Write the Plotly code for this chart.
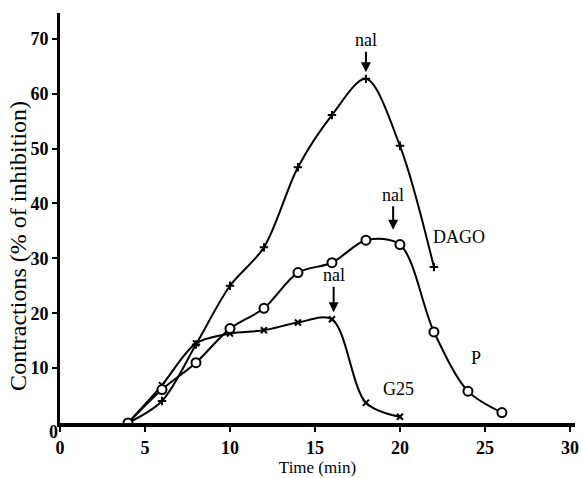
import plotly.graph_objects as go

time_dago = [4, 6, 8, 10, 12, 14, 16, 18, 20, 22]
dago = [0, 4.0, 14.3, 25.0, 32.0, 46.6, 56.1, 62.7, 50.5, 28.4]

time_p = [4, 6, 8, 10, 12, 14, 16, 18, 20, 22, 24, 26]
p_vals = [0, 6.1, 11.0, 17.2, 20.9, 27.4, 29.2, 33.3, 32.5, 16.6, 5.8, 1.9]

time_g25 = [4, 6, 8, 10, 12, 14, 16, 18, 20]
g25 = [0, 6.9, 14.5, 16.3, 16.9, 18.3, 18.9, 3.7, 1.15]

x_ticks = [0, 5, 10, 15, 20, 25, 30]
y_ticks = [10, 20, 30, 40, 50, 60, 70]

FONT = "Liberation Serif, Times New Roman, serif"

fig = go.Figure()
fig.add_trace(go.Scatter(
    x=time_dago, y=dago, mode="lines+markers", name="DAGO",
    line=dict(color="black", width=2, shape="spline", smoothing=0.9),
    marker=dict(symbol="cross-thin", size=6, color="black", line=dict(width=2, color="black")),
))
fig.add_trace(go.Scatter(
    x=time_g25, y=g25, mode="lines+markers", name="G25",
    line=dict(color="black", width=2, shape="spline", smoothing=0.9),
    marker=dict(symbol="x-thin", size=6, color="black", line=dict(width=2, color="black")),
))
fig.add_trace(go.Scatter(
    x=time_p, y=p_vals, mode="lines+markers", name="P",
    line=dict(color="black", width=2, shape="spline", smoothing=0.9),
    marker=dict(symbol="circle", size=9, color="white", line=dict(width=2, color="black")),
))

# nal arrows
for (x, y, ay) in [(18.0, 63.9, -32), (19.6, 35.2, -35), (16.1, 20.2, -37)]:
    fig.add_annotation(x=x, y=y, text="nal", showarrow=True, ax=0, ay=ay,
                       arrowhead=2, arrowsize=1, arrowwidth=2, arrowcolor="black",
                       font=dict(family=FONT, size=18, color="black"))

for (x, y, t) in [(23.5, 33.9, "DAGO"), (24.5, 11.8, "P"), (19.9, 6.2, "G25")]:
    fig.add_annotation(x=x, y=y, text=t, showarrow=False,
                       font=dict(family=FONT, size=18, color="black"))

# y-axis zero label placed slightly lower
fig.add_annotation(xref="paper", yref="y", x=0, y=0, xshift=-13, yshift=-9, text="0",
                   showarrow=False, font=dict(family=FONT, size=18, color="black", weight="bold"))

# y-axis title (sits a little below the plot's middle, as in the reference)
fig.add_annotation(xref="paper", yref="paper", x=0, y=0.432, xshift=-42, textangle=-90,
                   text="Contractions (% of inhibition)", showarrow=False,
                   xanchor="center", yanchor="middle",
                   font=dict(family=FONT, size=24, color="black"))

fig.update_layout(
    width=582, height=478,
    margin=dict(l=60, r=7, t=13, b=55),
    plot_bgcolor="white", paper_bgcolor="white",
    showlegend=False,
    font=dict(family=FONT, color="black"),
    xaxis=dict(range=[0, 30.3], tickvals=x_ticks, ticks="outside", ticklen=5, tickwidth=2,
               tickcolor="black", showline=True, linewidth=4, linecolor="black",
               showgrid=False, zeroline=False, automargin=False,
               tickfont=dict(family=FONT, size=18, color="black", weight="bold"),
               title=dict(text="Time (min)", font=dict(family=FONT, size=17, color="black"), standoff=2)),
    yaxis=dict(range=[0, 74.7], tickvals=y_ticks, ticks="outside", ticklen=5, tickwidth=2,
               tickcolor="black", showline=True, linewidth=3, linecolor="black",
               showgrid=False, zeroline=False, automargin=False,
               tickfont=dict(family=FONT, size=18, color="black", weight="bold")),
)

fig.write_html("out.html", config={"displayModeBar": False},
               post_script="document.body.style.margin='0';document.body.style.overflow='hidden';")
